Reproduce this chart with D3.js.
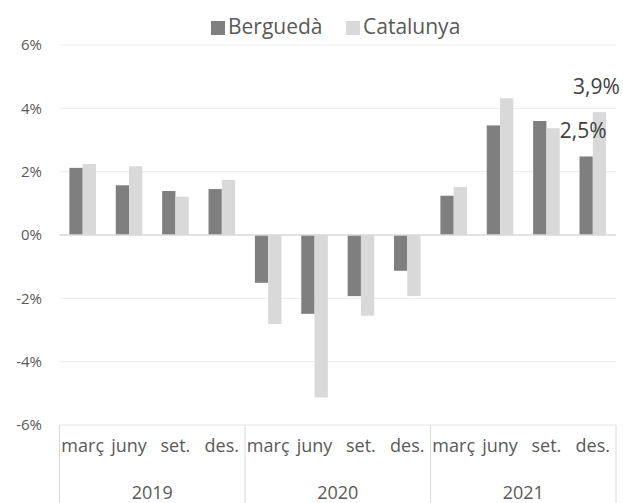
<!DOCTYPE html>
<html>
<head>
<meta charset="UTF-8">
<title>bergueda_catalunya</title>
<style type="text/css">
	body { margin: 0; background: #fff; }
	text { font-family: "Open Sans", sans-serif; }
	.tick-y { font-size: 15px; fill: #595959; text-anchor: end; }
	.month, .year { font-size: 18px; fill: #595959; text-anchor: middle; }
	.legend { font-size: 21px; fill: #595959; }
	.value { font-size: 21px; fill: #404040; text-anchor: middle; }
</style>
<script type="text/javascript" src="https://cdn.jsdelivr.net/npm/d3@7/dist/d3.min.js"></script>
</head>
<body>
<div id="div_main"></div>

<script type="text/javascript">

	var years = ["2019", "2020", "2021"];
	var months = ["març", "juny", "set.", "des."];
	var seriesNames = ["Berguedà", "Catalunya"];
	var bergueda = [2.12, 1.57, 1.39, 1.45, -1.51, -2.49, -1.93, -1.13, 1.24, 3.46, 3.60, 2.48];
	var catalunya = [2.24, 2.17, 1.21, 1.74, -2.81, -5.13, -2.55, -1.93, 1.52, 4.32, 3.37, 3.88];
	var yTicks = [-6, -4, -2, 0, 2, 4, 6];
	// only the last quarter carries data labels
	var labelled = ["2021|des."];

	function draw() {
		var colors = { "Berguedà": "#7f7f7f", "Catalunya": "#d9d9d9" };

		var svg_w = 623, svg_h = 503;
		var plotL = 59.5, plotR = 616, plotT = 45, plotB = 425;

		// one row per quarter
		var dataset = [];
		years.forEach(function (y, i) {
			months.forEach(function (m, j) {
				var k = i * months.length + j;
				dataset.push({ key: y + "|" + m, year: y, month: m, values: [bergueda[k], catalunya[k]] });
			});
		});

		var svg = d3.select("#div_main")
			.append("svg")
				.attr("width", svg_w)
				.attr("height", svg_h);

		var scaleX = d3.scaleBand()
			.domain(dataset.map(function (d) { return d.key; }))
			.range([plotL, plotR])
			.paddingInner(0);

		var scaleSeries = d3.scaleBand()
			.domain(seriesNames)
			.range([0, scaleX.bandwidth()])
			.paddingInner(0)
			.paddingOuter(0.745);

		var scaleY = d3.scaleLinear()
			.domain([-6, 6])
			.range([plotB, plotT]);

		var scaleYear = d3.scaleBand()
			.domain(years)
			.range([plotL, plotR]);

		// gridlines
		svg.selectAll("line.grid")
			.data(yTicks.filter(function (t) { return t !== 0 && t !== -6; }))
			.enter()
			.append("line")
				.attr("class", "grid")
				.attr("x1", plotL).attr("x2", plotR)
				.attr("y1", function (d) { return scaleY(d); })
				.attr("y2", function (d) { return scaleY(d); })
				.attr("stroke", "#ebebeb")
				.attr("stroke-width", 1);

		// y tick labels
		svg.selectAll("text.tick-y")
			.data(yTicks)
			.enter()
			.append("text")
				.attr("class", "tick-y")
				.attr("x", 42)
				.attr("y", function (d) { return scaleY(d); })
				.attr("dy", "0.35em")
				.text(function (d) { return d + "%"; });

		// bars
		var groups = svg.selectAll("g.quarter")
			.data(dataset)
			.enter()
			.append("g")
				.attr("class", "quarter")
				.attr("transform", function (d) { return "translate(" + scaleX(d.key) + ",0)"; });

		groups.selectAll("rect")
			.data(function (d) { return d.values.map(function (v, i) { return { name: seriesNames[i], value: v }; }); })
			.enter()
			.append("rect")
				.attr("x", function (d) { return scaleSeries(d.name); })
				.attr("y", function (d) { return scaleY(Math.max(0, d.value)); })
				.attr("width", scaleSeries.bandwidth())
				.attr("height", function (d) { return Math.abs(scaleY(d.value) - scaleY(0)); })
				.attr("fill", function (d) { return colors[d.name]; });

		// zero line
		svg.append("line")
			.attr("x1", plotL).attr("x2", plotR)
			.attr("y1", scaleY(0)).attr("y2", scaleY(0))
			.attr("stroke", "#d9d9d9")
			.attr("stroke-width", 1.5);

		// category box: top line and separators
		svg.append("line")
			.attr("x1", plotL).attr("x2", plotR)
			.attr("y1", scaleY(-6)).attr("y2", scaleY(-6))
			.attr("stroke", "#e3e3e3");

		var seps = years.map(function (y) { return scaleYear(y); }).concat([plotR]);
		svg.selectAll("line.sep")
			.data(seps)
			.enter()
			.append("line")
				.attr("class", "sep")
				.attr("x1", function (d) { return d; })
				.attr("x2", function (d) { return d; })
				.attr("y1", scaleY(-6))
				.attr("y2", svg_h)
				.attr("stroke", "#d9d9d9")
				.attr("stroke-width", 1);

		// month labels
		svg.selectAll("text.month")
			.data(dataset)
			.enter()
			.append("text")
				.attr("class", "month")
				.attr("x", function (d) { return scaleX(d.key) + scaleX.bandwidth() / 2; })
				.attr("y", 452)
				.text(function (d) { return d.month; });

		// year labels
		svg.selectAll("text.year")
			.data(years)
			.enter()
			.append("text")
				.attr("class", "year")
				.attr("x", function (d) { return scaleYear(d) + scaleYear.bandwidth() / 2; })
				.attr("y", 499)
				.text(function (d) { return d; });

		// data labels
		dataset.filter(function (d) { return labelled.indexOf(d.key) >= 0; }).forEach(function (d) {
			d.values.forEach(function (v, i) {
				svg.append("text")
					.attr("class", "value")
					.attr("x", scaleX(d.key) + scaleSeries(seriesNames[i]) + scaleSeries.bandwidth() / 2 - 3)
					.attr("y", scaleY(v) - 18)
					.text(v.toFixed(1).replace(".", ",") + "%");
			});
		});

		// legend
		var legendX = [211, 346];
		seriesNames.forEach(function (name, i) {
			svg.append("rect")
				.attr("x", legendX[i])
				.attr("y", 21)
				.attr("width", 14)
				.attr("height", 14)
				.attr("fill", colors[name]);
			svg.append("text")
				.attr("class", "legend")
				.attr("x", legendX[i] + 17)
				.attr("y", 34)
				.text(name);
		});
	}

	draw();

</script>
</body>
</html>
